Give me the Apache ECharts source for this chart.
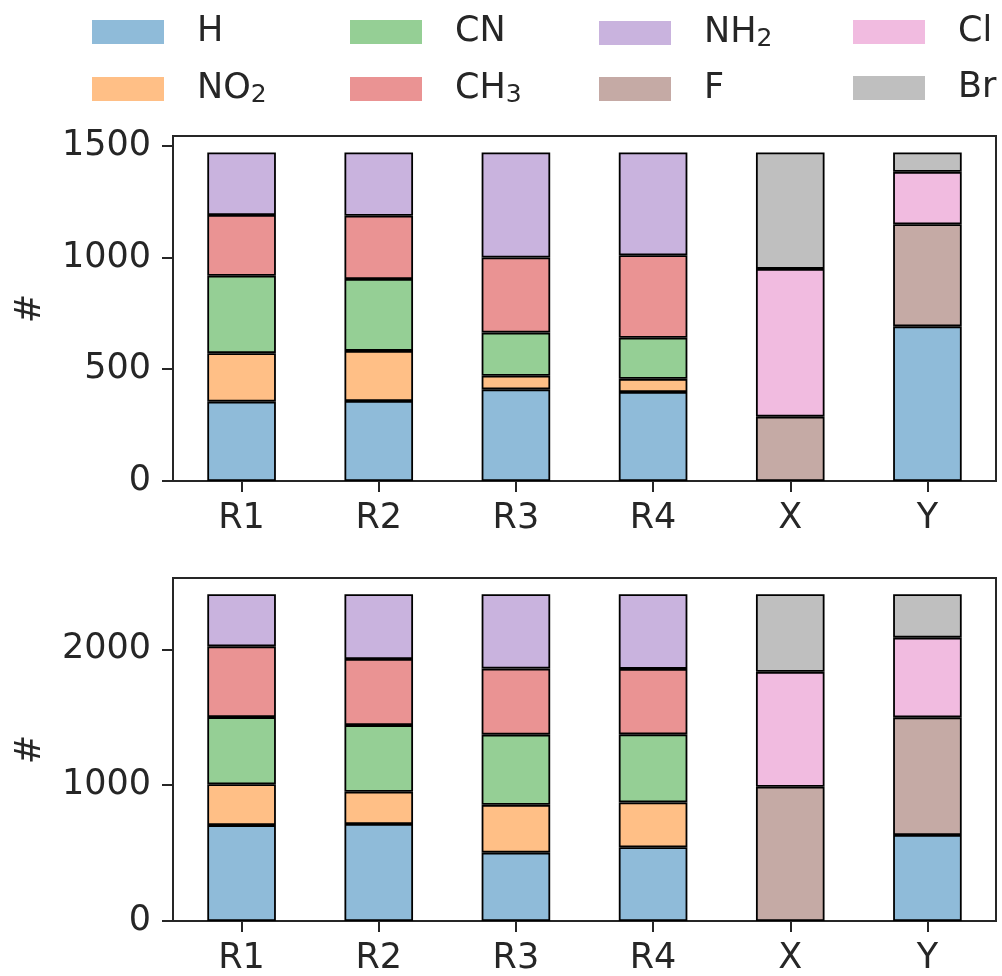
<!DOCTYPE html>
<html>
<head>
<meta charset="utf-8">
<script src="https://cdn.jsdelivr.net/npm/echarts@6/dist/echarts.min.js"></script>
<style>html,body{margin:0;padding:0;background:#fff;}#c{width:1002px;height:976px;}</style>
</head>
<body>
<div id="c"></div>
<script>
const categories = ['R1', 'R2', 'R3', 'R4', 'X', 'Y'];
const seriesNames = ['H', 'NO2', 'CN', 'CH3', 'NH2', 'F', 'Cl', 'Br'];

// top panel
const topH   = [355, 358, 410, 398, null, 692];
const topNO2 = [217, 224, 61, 59, null, null];
const topCN  = [346, 322, 193, 184, null, null];
const topCH3 = [272, 283, 336, 369, null, null];
const topNH2 = [280, 283, 470, 460, null, null];
const topF   = [null, null, null, null, 288, 457];
const topCl  = [null, null, null, null, 661, 234];
const topBr  = [null, null, null, null, 521, 87];

// bottom panel
const botH   = [706, 714, 503, 543, null, 633];
const botNO2 = [301, 237, 352, 330, null, null];
const botCN  = [494, 491, 517, 501, null, null];
const botCH3 = [521, 487, 486, 482, null, null];
const botNH2 = [383, 476, 547, 549, null, null];
const botF   = [null, null, null, null, 988, 866];
const botCl  = [null, null, null, null, 846, 587];
const botBr  = [null, null, null, null, 571, 319];

const topTicks = [0, 500, 1000, 1500];
const botTicks = [0, 1000, 2000];
const topMax = 1543.5;
const botMax = 2525;

const colors = ['#8fbbd9', '#ffbf86', '#95cf95', '#ea9393', '#c9b3de', '#c5aaa5', '#f1bbe0', '#bfbfbf'];

const topData = [topH, topNO2, topCN, topCH3, topNH2, topF, topCl, topBr];
const botData = [botH, botNO2, botCN, botCH3, botNH2, botF, botCl, botBr];

const axisColor = '#262626';
const fs = 35;

function fmtName(n) {
  const m = n.match(/^(.*?)(\d)$/);
  return m ? m[1] + '{s|' + m[2] + '}' : n;
}

const legendCols = [[0, 1], [2, 3], [4, 5], [6, 7]];
const legendX = [92, 350, 599, 853];
const legends = legendCols.map((idx, i) => ({
  orient: 'vertical',
  left: legendX[i],
  top: 12,
  padding: 0,
  itemWidth: 72,
  itemHeight: 24,
  itemGap: 16,
  icon: 'rect',
  selectedMode: false,
  data: idx.map(k => seriesNames[k]),
  formatter: fmtName,
  itemStyle: { borderWidth: 0 },
  textStyle: {
    fontFamily: 'DejaVu Sans',
    fontSize: fs,
    lineHeight: 40,
    color: axisColor,
    padding: [0, 0, 0, 28],
    rich: {
      s: { fontFamily: 'DejaVu Sans', fontSize: 25, lineHeight: 24, color: axisColor, padding: [15, 0, 1, 0], verticalAlign: 'bottom' }
    }
  }
}));

function xAxis(gi) {
  return {
    type: 'category', gridIndex: gi, data: categories,
    boundaryGap: true,
    axisLine: { show: true, lineStyle: { color: axisColor, width: 2 } },
    axisTick: { show: true, alignWithLabel: true, length: 11, lineStyle: { color: axisColor, width: 2 } },
    axisLabel: { fontFamily: 'DejaVu Sans', fontSize: fs, color: axisColor, margin: 20 },
    splitLine: { show: false }
  };
}
function yAxis(gi, max, ticks) {
  return {
    type: 'value', gridIndex: gi, min: 0, max: max,
    name: '#', nameLocation: 'middle', nameRotate: 90, nameGap: 125,
    nameTextStyle: { fontFamily: 'DejaVu Sans', fontSize: fs, color: axisColor },
    axisLine: { show: true, lineStyle: { color: axisColor, width: 2 } },
    axisTick: { show: true, length: 11, customValues: ticks, lineStyle: { color: axisColor, width: 2 } },
    axisLabel: { fontFamily: 'DejaVu Sans', fontSize: fs, color: axisColor, margin: 22, customValues: ticks,
                 formatter: v => String(v) },
    splitLine: { show: false }
  };
}

const series = [];
[topData, botData].forEach((dataSet, gi) => {
  dataSet.forEach((vals, k) => {
    series.push({
      name: seriesNames[k], type: 'bar', stack: 'g' + gi,
      xAxisIndex: gi, yAxisIndex: gi,
      data: vals, barWidth: '50%',
      itemStyle: { color: colors[k], borderColor: '#000', borderWidth: 1.8 },
      emphasis: { disabled: true },
      animation: false
    });
  });
});

const chart = echarts.init(document.getElementById('c'));
chart.setOption({
  animation: false,
  color: colors,
  legend: legends,
  grid: [
    { left: 173, right: 6, top: 136, height: 345, show: true, borderColor: axisColor, borderWidth: 2, containLabel: false },
    { left: 173, right: 6, top: 578, height: 344, show: true, borderColor: axisColor, borderWidth: 2, containLabel: false }
  ],
  xAxis: [xAxis(0), xAxis(1)],
  yAxis: [yAxis(0, topMax, topTicks), yAxis(1, botMax, botTicks)],
  series: series
});
</script>
</body>
</html>
